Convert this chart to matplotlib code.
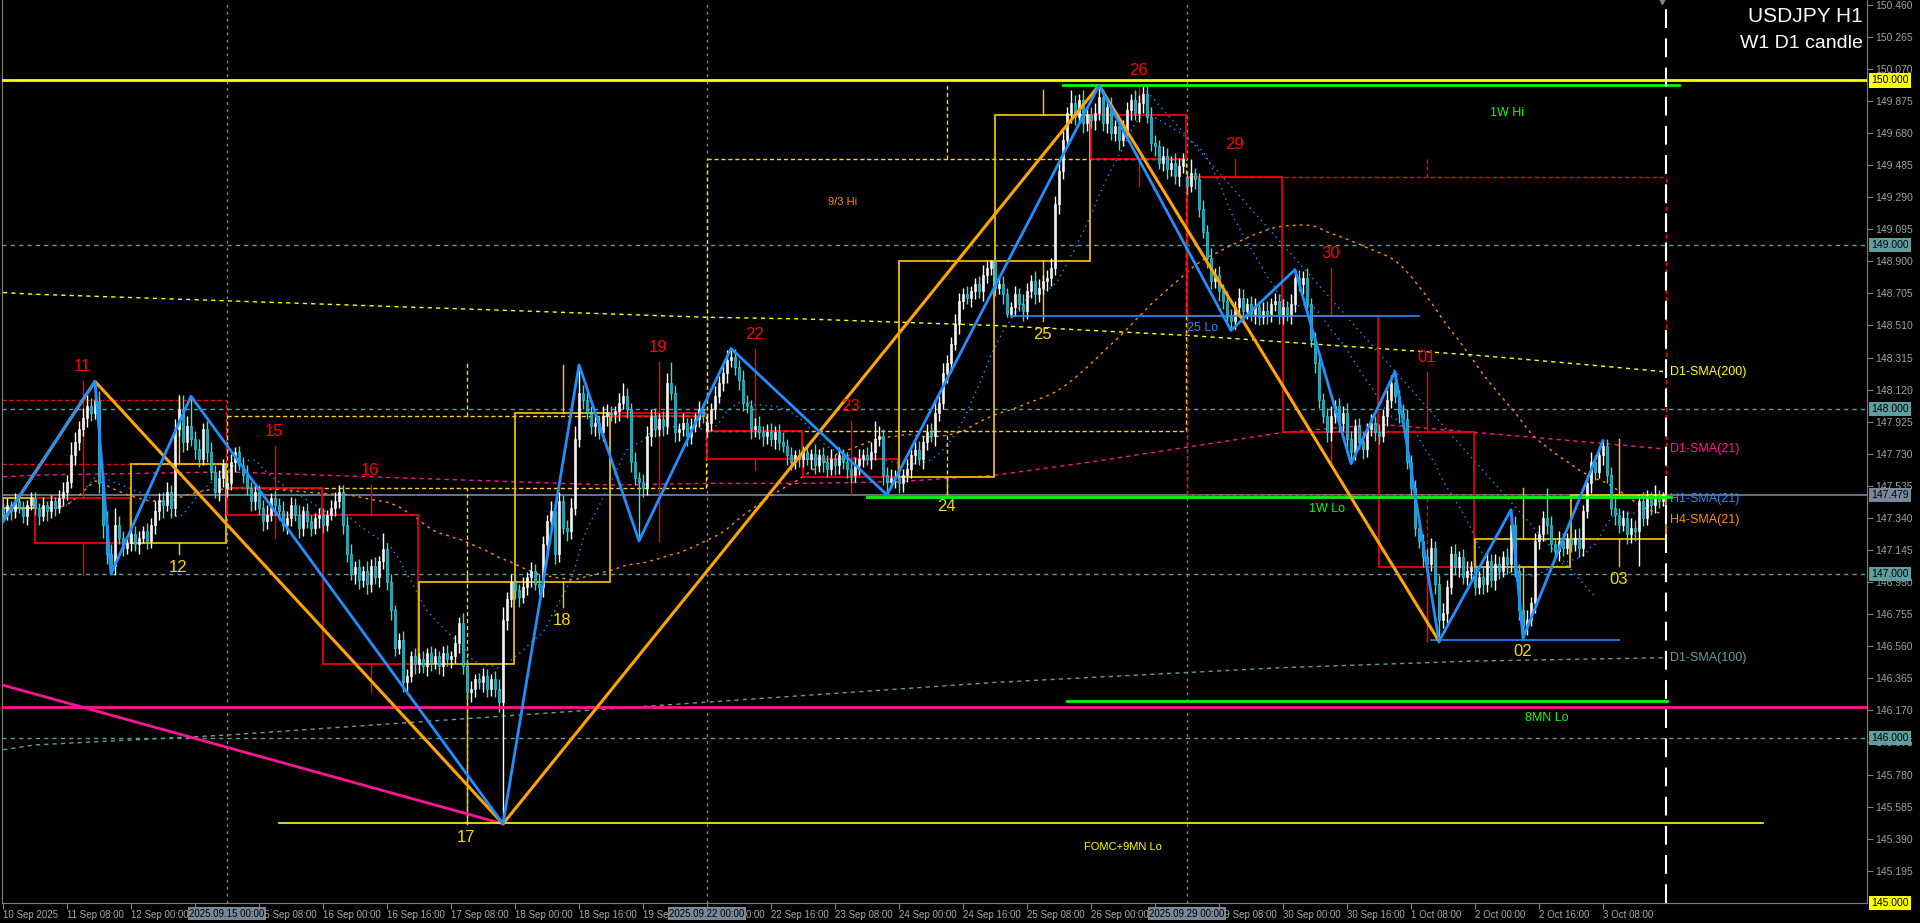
import numpy as np
import pandas as pd
import matplotlib
matplotlib.use("Agg")
import matplotlib.pyplot as plt
from matplotlib.patches import Rectangle
from matplotlib.transforms import blended_transform_factory

plt.rcParams['font.family'] = ['Liberation Sans', 'DejaVu Sans']

# USDJPY H1, first bar 10 Sep 2025 16:00, last bar 3 Oct 23:00
first_open = 147.40
close = [
    # 10 Sep
    147.36, 147.42, 147.38, 147.44, 147.40, 147.35, 147.42, 147.46,
    # 11 Sep
    147.40, 147.35, 147.42, 147.38, 147.44, 147.40, 147.46, 147.50,
    147.56, 147.72, 147.80, 147.88, 147.95, 148.02, 147.98, 148.05,
    147.55, 147.30, 147.12, 147.05, 147.30, 147.22, 147.16, 147.19,
    # 12 Sep
    147.24, 147.18, 147.22, 147.26, 147.20, 147.30, 147.38, 147.45,
    147.42, 147.50, 147.40, 147.88, 148.00, 147.80, 147.90, 147.82,
    147.76, 147.70, 147.88, 147.74, 147.62, 147.50, 147.58, 147.67,
    # 15 Sep
    147.55, 147.68, 147.74, 147.66, 147.60, 147.52, 147.44, 147.50,
    147.40, 147.32, 147.36, 147.46, 147.42, 147.38, 147.30, 147.34,
    147.42, 147.36, 147.28, 147.38, 147.32, 147.28, 147.34, 147.36,
    # 16 Sep
    147.30, 147.36, 147.40, 147.44, 147.50, 147.30, 147.12, 147.00,
    147.04, 146.96, 147.02, 146.94, 147.05, 146.98, 147.08, 147.15,
    146.95, 146.78, 146.55, 146.60, 146.34, 146.38, 146.50, 146.45,
    # 17 Sep
    146.48, 146.44, 146.52, 146.46, 146.50, 146.44, 146.52, 146.48,
    146.50, 146.58, 146.70, 146.44, 146.28, 146.30, 146.36, 146.34,
    146.38, 146.30, 146.36, 146.30, 146.22, 146.72, 146.85, 146.95,
    # 18 Sep
    146.90, 146.86, 146.92, 146.98, 147.02, 146.94, 146.92, 147.18,
    147.32, 147.38, 147.12, 147.44, 147.28, 147.26, 147.40, 147.82,
    148.10, 148.06, 147.98, 147.90, 147.92, 147.86, 147.96, 147.98,
    # 19 Sep
    147.97, 147.99, 148.04, 148.08, 148.00, 147.68, 147.58, 147.56,
    147.52, 147.84, 147.96, 147.88, 147.94, 147.90, 148.16, 148.10,
    147.86, 147.88, 147.92, 147.84, 147.90, 147.94, 148.00, 147.96,
    # 22 Sep
    147.92, 148.00, 148.08, 148.16, 148.22, 148.30, 148.32, 148.26,
    148.18, 148.04, 148.02, 147.88, 147.90, 147.86, 147.84, 147.86,
    147.82, 147.86, 147.80, 147.78, 147.72, 147.68, 147.72, 147.70,
    # 23 Sep
    147.74, 147.70, 147.73, 147.66, 147.72, 147.68, 147.64, 147.70,
    147.66, 147.72, 147.68, 147.64, 147.60, 147.66, 147.70, 147.72,
    147.70, 147.74, 147.82, 147.84, 147.60, 147.56, 147.58, 147.59,
    # 24 Sep
    147.55, 147.60, 147.64, 147.72, 147.75, 147.70, 147.80, 147.86,
    147.84, 147.98, 148.04, 148.22, 148.28, 148.40, 148.52, 148.66,
    148.70, 148.68, 148.72, 148.76, 148.72, 148.82, 148.86, 148.90,
    # 25 Sep
    148.74, 148.76, 148.70, 148.58, 148.62, 148.70, 148.64, 148.60,
    148.72, 148.78, 148.70, 148.74, 148.78, 148.80, 148.86, 149.25,
    149.45, 149.64, 149.80, 149.86, 149.78, 149.88, 149.74, 149.79,
    # 26 Sep
    149.76, 149.80, 149.90, 149.74, 149.84, 149.68, 149.72, 149.64,
    149.70, 149.82, 149.88, 149.80, 149.86, 149.92, 149.78, 149.62,
    149.60, 149.50, 149.54, 149.46, 149.50, 149.42, 149.48, 149.52,
    # 29 Sep
    149.36, 149.44, 149.40, 149.22, 149.08, 148.92, 148.78, 148.82,
    148.72, 148.66, 148.56, 148.54, 148.62, 148.68, 148.60, 148.64,
    148.58, 148.62, 148.56, 148.60, 148.58, 148.64, 148.66, 148.57,
    # 30 Sep
    148.62, 148.58, 148.64, 148.80, 148.76, 148.80, 148.64, 148.42,
    148.28, 148.06, 147.96, 147.86, 147.96, 148.02, 147.92, 147.98,
    147.82, 147.74, 147.90, 147.80, 147.76, 147.88, 147.92, 147.86,
    # 1 Oct
    147.84, 147.96, 148.06, 148.16, 148.08, 147.98, 147.94, 147.68,
    147.52, 147.28, 147.20, 147.10, 147.06, 147.16, 146.94, 146.72,
    146.76, 146.92, 147.12, 147.04, 147.10, 146.98, 147.02, 147.04,
    # 2 Oct
    146.92, 146.98, 146.94, 147.08, 146.96, 147.06, 147.02, 147.10,
    147.06, 147.30, 147.02, 146.78, 146.68, 146.72, 146.82, 147.20,
    147.24, 147.34, 147.30, 147.18, 147.14, 147.20, 147.16, 147.21,
    # 3 Oct
    147.18, 147.22, 147.16, 147.38, 147.55, 147.68, 147.62, 147.72,
    147.78, 147.60, 147.40, 147.36, 147.30, 147.34, 147.24, 147.28,
    147.26, 147.44, 147.34, 147.46, 147.42, 147.48, 147.44, 147.479,
]
# upper / lower wick beyond the body, in pips
wick_up = [
    3, 4, 2, 5, 3, 4, 3, 4,
    4, 3, 5, 2, 4, 3, 5, 6, 4, 8, 6, 5, 6, 7, 5, 12, 6, 5, 8, 6, 10, 5, 4, 3,
    3, 5, 4, 3, 5, 4, 6, 4, 5, 6, 4, 6, 8, 9, 6, 18, 5, 6, 4, 5, 6, 4, 5, 3,
    6, 5, 3, 4, 5, 6, 4, 5, 4, 5, 6, 3, 5, 4, 6, 4, 5, 4, 6, 3, 5, 4, 3, 4,
    4, 3, 5, 6, 4, 4, 5, 6, 4, 5, 3, 6, 4, 5, 3, 10, 4, 5, 3, 4, 5, 4, 3, 5,
    4, 5, 3, 4, 5, 3, 4, 5, 3, 5, 4, 6, 4, 5, 3, 4, 5, 4, 3, 5, 6, 8, 4, 5,
    5, 4, 6, 3, 5, 4, 6, 5, 4, 6, 5, 6, 4, 5, 6, 8, 17, 5, 6, 4, 5, 4, 6, 5,
    4, 3, 6, 8, 5, 4, 6, 4, 5, 6, 4, 5, 4, 5, 6, 13, 5, 4, 6, 3, 5, 4, 5, 4,
    5, 4, 6, 4, 5, 6, 5, 5, 4, 6, 5, 4, 5, 6, 4, 5, 6, 4, 5, 6, 4, 5, 3, 4,
    4, 5, 3, 6, 4, 5, 4, 6, 3, 5, 4, 6, 4, 5, 6, 4, 5, 6, 11, 6, 4, 5, 6, 4,
    5, 4, 6, 4, 5, 6, 4, 5, 6, 8, 4, 6, 5, 4, 6, 5, 4, 5, 3, 4, 5, 6, 4, 1,
    3, 4, 5, 4, 3, 5, 4, 6, 5, 4, 6, 5, 4, 5, 6, 5, 6, 5, 4, 8, 5, 4, 6, 5,
    5, 6, 7, 5, 5, 6, 4, 5, 6, 5, 4, 6, 5, 4, 5, 6, 5, 4, 6, 5, 4, 6, 5, 4,
    4, 8, 3, 4, 5, 4, 6, 4, 5, 4, 6, 5, 4, 6, 5, 4, 5, 6, 4, 5, 6, 4, 5, 4,
    5, 4, 6, 5, 5, 4, 6, 4, 5, 6, 4, 5, 6, 4, 5, 4, 6, 5, 4, 5, 6, 4, 5, 4,
    5, 4, 6, 5, 7, 4, 5, 6, 4, 5, 6, 4, 5, 6, 4, 5, 6, 4, 5, 6, 4, 5, 6, 4,
    5, 4, 6, 5, 4, 6, 5, 4, 6, 9, 5, 4, 5, 6, 4, 5, 6, 4, 18, 5, 4, 6, 5, 4,
    4, 5, 6, 4, 5, 6, 4, 5, 3, 4, 5, 6, 4, 5, 4, 6, 5, 4, 6, 5, 4, 6, 3, 2,
]
wick_dn = [
    4, 3, 5, 4, 3, 4, 5, 3,
    4, 5, 3, 6, 4, 5, 3, 4, 5, 4, 6, 5, 4, 6, 5, 4, 6, 8, 6, 5, 6, 4, 5, 4,
    5, 4, 6, 3, 5, 4, 6, 5, 8, 4, 6, 5, 4, 6, 5, 4, 6, 5, 4, 6, 5, 4, 6, 5,
    5, 4, 6, 3, 5, 4, 6, 5, 4, 6, 5, 4, 6, 5, 4, 6, 5, 4, 6, 5, 4, 5, 4, 6,
    5, 4, 3, 5, 4, 6, 5, 4, 6, 5, 4, 6, 5, 4, 6, 5, 5, 6, 5, 4, 6, 5, 4, 6,
    5, 4, 6, 5, 4, 5, 6, 4, 5, 4, 6, 5, 4, 6, 5, 4, 6, 5, 4, 5, 6, 74, 6, 5,
    5, 6, 4, 5, 6, 4, 5, 6, 5, 4, 6, 5, 4, 6, 5, 4, 5, 6, 4, 5, 6, 4, 5, 6,
    4, 5, 6, 4, 5, 6, 4, 36, 5, 4, 6, 5, 4, 6, 5, 4, 6, 5, 4, 6, 5, 4, 5, 4,
    4, 5, 6, 4, 5, 6, 4, 5, 6, 5, 4, 6, 5, 4, 6, 5, 4, 6, 5, 4, 6, 5, 4, 5,
    5, 4, 6, 5, 4, 6, 5, 4, 6, 5, 4, 6, 5, 4, 6, 5, 4, 6, 5, 4, 6, 8, 4, 6,
    6, 5, 4, 6, 5, 4, 6, 5, 4, 6, 5, 4, 6, 5, 4, 6, 5, 4, 6, 5, 4, 6, 5, 4,
    5, 4, 6, 2, 2, 5, 4, 6, 5, 4, 6, 5, 4, 6, 5, 4, 6, 5, 4, 6, 5, 4, 6, 5,
    5, 6, 4, 5, 6, 4, 5, 6, 4, 5, 6, 4, 5, 6, 4, 5, 6, 4, 5, 6, 4, 5, 6, 4,
    5, 4, 6, 5, 4, 6, 5, 4, 6, 5, 4, 6, 5, 4, 6, 5, 4, 6, 5, 4, 6, 5, 4, 5,
    5, 4, 6, 5, 4, 6, 5, 4, 6, 5, 4, 6, 5, 4, 6, 5, 6, 7, 5, 4, 6, 5, 4, 5,
    5, 4, 6, 5, 4, 6, 5, 4, 6, 5, 4, 6, 5, 4, 6, 13, 5, 6, 4, 5, 6, 4, 5, 6,
    5, 4, 6, 5, 4, 6, 5, 4, 6, 5, 4, 6, 7, 5, 4, 6, 5, 4, 6, 5, 4, 6, 5, 4,
    5, 4, 6, 5, 4, 6, 5, 4, 6, 5, 4, 6, 5, 4, 6, 5, 6, 21, 5, 4, 6, 5, 4, 3,
]
gap_open = {56: 147.52, 176: 147.87, 296: 149.41}  # monday opens

day_start = [0, 8, 32, 56, 80, 104, 128, 152, 176, 200, 224, 248, 272, 296, 320, 344, 368, 392]
day_label = ['10', '11', '12', '15', '16', '17', '18', '19', '22', '23', '24', '25', '26',
             '29', '30', '01', '02', '03']
week_start = [0, 56, 176, 296]
week_label = ['', '2025.09.15 00:00', '2025.09.22 00:00', '2025.09.29 00:00']
prev_week_open = 148.06

# daily SMAs, value at each day start + last bar
d1_sma21 = [147.59, 147.60, 147.61, 147.62, 147.60, 147.58, 147.56, 147.54, 147.55, 147.55,
            147.56, 147.60, 147.68, 147.77, 147.86, 147.91, 147.86, 147.81, 147.76]
d1_sma100 = [145.93, 145.96, 145.99, 146.02, 146.06, 146.10, 146.14, 146.18, 146.22, 146.26,
             146.30, 146.34, 146.37, 146.40, 146.43, 146.45, 146.47, 146.48, 146.49]
d1_sma200 = [148.71, 148.70, 148.68, 148.66, 148.64, 148.62, 148.60, 148.58, 148.56, 148.55,
             148.53, 148.51, 148.48, 148.45, 148.41, 148.37, 148.33, 148.28, 148.23]

# zigzag pivots (bar index), alternating low / high starting with a low
orange_piv = [0, 23, 125, 274, 359]
blue_piv = [0, 23, 27, 47, 125, 144, 159, 182, 221, 274, 307, 323, 337, 348, 359, 377, 380, 400]

# horizontal levels
lvl_name = ['1W Hi', '1W Lo', '8MN Lo', 'FOMC+9MN Lo']
lvl_price = [149.97, 147.47, 146.225, 145.487]
lvl_from = [265, 216, 266, 69]
lvl_to = [419, 417, 416, 440]
pink_level = 146.19
pink_trend_bar = [-1, 125]
pink_trend_px = [146.33, 145.48]
lo25_price, lo25_from, lo25_to = 148.57, 252, 354
lo02_price, lo02_from, lo02_to = 146.595, 357, 404
trend_bar = [285, 398]
trend_px = [149.96, 146.86]
round_levels = [146.0, 147.0, 148.0, 149.0]

tick_bars = list(range(0, 401, 16))
tick_text = ['10 Sep 2025', '11 Sep 08:00', '12 Sep 00:00', '12 Sep 16:00', '15 Sep 08:00',
             '16 Sep 00:00', '16 Sep 16:00', '17 Sep 08:00', '18 Sep 00:00', '18 Sep 16:00',
             '19 Sep 08:00', '22 Sep 00:00', '22 Sep 16:00', '23 Sep 08:00', '24 Sep 00:00',
             '24 Sep 16:00', '25 Sep 08:00', '26 Sep 00:00', '26 Sep 16:00', '29 Sep 08:00',
             '30 Sep 00:00', '30 Sep 16:00', '1 Oct 08:00', '2 Oct 00:00', '2 Oct 16:00',
             '3 Oct 08:00']
price_ticks = [145.195, 145.390, 145.585, 145.780, 145.975, 146.170, 146.365, 146.560,
               146.755, 146.950, 147.145, 147.340, 147.535, 147.730, 147.925, 148.120,
               148.315, 148.510, 148.705, 148.900, 149.095, 149.290, 149.485, 149.680,
               149.875, 150.070, 150.265, 150.460]

# ---------------------------------------------------------------
c = np.array(close)
n = len(c)
o = np.empty(n)
o[0] = first_open
o[1:] = c[:-1]
for b, v in gap_open.items():
    o[b] = v
hi = np.maximum(o, c) + np.array(wick_up) / 100
lo = np.minimum(o, c) - np.array(wick_dn) / 100
x = np.arange(n)
bull = c >= o

W, H = 1920, 923
fig = plt.figure(figsize=(W / 100, H / 100), dpi=100, facecolor='black')
ax = fig.add_axes([2 / W, (H - 902.8) / H, 1865 / W, 902.8 / H])
ax.set_facecolor('black')
ax.set_xlim(-0.25, -0.25 + 1865 / 4)
ax.set_ylim(145.0, 150.489)
last = n - 1
shift_x = last + 0.75

# grid-ish lines
for lv in round_levels:
    ax.axhline(lv, color='#5f9ea0', lw=1, dashes=(3, 3), zorder=1)
for ws in week_start[1:]:
    ax.axvline(ws, color='#778899', lw=1, ls=(0, (2, 3)), zorder=1)
ax.axhline(c[-1], color='#778899', lw=1.2, zorder=1.5)
ax.axvline(shift_x, color='white', lw=1.5, dashes=(9, 5), zorder=6)
ax.plot(shift_x - 1, 150.489, marker='v', color='#778899', ms=6, clip_on=False, zorder=7)

# moving averages
h1_sma = pd.Series(c).rolling(21, min_periods=1).mean()
h4_sma = pd.Series(c).rolling(84, min_periods=1).mean()
ax.plot(x, h1_sma, color='#1e90ff', lw=1, ls=(0, (1, 3)), zorder=2)
ax.plot(x, h4_sma, color='#ff8c00', lw=1, ls=(0, (2, 3)), zorder=2)
dx = day_start + [last]
ax.plot(dx, d1_sma21, color='#ff1493', lw=1, ls=(0, (3, 3)), zorder=2)
ax.plot(dx, d1_sma100, color='#5f9ea0', lw=1, ls=(0, (3, 3)), zorder=2)
ax.plot(dx, d1_sma200, color='#ffff00', lw=1, ls=(0, (3, 3)), zorder=2)
sma_tags = [('D1-SMA(200)', d1_sma200[-1], '#ffff00'), ('D1-SMA(21)', d1_sma21[-1], '#ff1493'),
            ('H1-SMA(21)', h1_sma.iloc[-1], '#1e90ff'), ('H4-SMA(21)', h4_sma.iloc[-1] - 0.04, '#ff8c00'),
            ('D1-SMA(100)', d1_sma100[-1], '#5f9ea0')]
for txt, yv, col in sma_tags:
    ax.text(shift_x + 1, yv, txt, color=col, fontsize=9, ha='left', va='center', zorder=8)

# weekly candles (dashed)
week_end = week_start[1:] + [n]
for k, s in enumerate(week_start):
    e = week_end[k] - 1
    wo = prev_week_open if k == 0 else o[s]
    wc = c[e]
    col = '#ffd700' if wc >= wo else '#ff0000'
    top, bot = max(wo, wc), min(wo, wc)
    left, right = (-0.25 if k == 0 else s), e + 0.75
    kw = dict(color=col, lw=1, ls=(0, (3, 2)), zorder=2)
    ax.plot([left, right], [top, top], **kw)
    ax.plot([left, right], [bot, bot], **kw)
    ax.plot([right, right], [bot, top], **kw)
    if k > 0:
        ax.plot([left, left], [bot, top], **kw)
        mid = (left + right) / 2
        ax.plot([mid, mid], [top, hi[s:e + 1].max()], **kw)
        ax.plot([mid, mid], [lo[s:e + 1].min(), bot], **kw)

# daily candles (boxes)
day_end = day_start[1:] + [n]
for k, s in enumerate(day_start):
    e = day_end[k] - 1
    do, dc = o[s], c[e]
    col = '#ffc800' if dc >= do else '#ff0000'
    left, right = s, e + 0.75
    top, bot = max(do, dc), min(do, dc)
    ax.add_patch(Rectangle((left, bot), right - left, top - bot, fill=False,
                           edgecolor=col, lw=1.2, zorder=2.5))
    if k == 0:
        continue
    mid = (left + right) / 2
    dh, dl = hi[s:e + 1].max(), lo[s:e + 1].min()
    ax.plot([mid, mid], [top, dh], color=col, lw=1, zorder=2.5)
    ax.plot([mid, mid], [dl, bot], color=col, lw=1, zorder=2.5)
    if dc >= do:
        ax.annotate(day_label[k], (mid, dl), xytext=(0, -6), textcoords='offset pixels',
                    color='#ffd700', fontsize=12, ha='center', va='top', zorder=8)
    else:
        ax.annotate(day_label[k], (mid, dh), xytext=(0, 7), textcoords='offset pixels',
                    color='#ff0000', fontsize=12, ha='center', va='bottom', zorder=8)

# candles
body_lo = np.minimum(o, c)
body_h = np.maximum(np.abs(c - o), 0.006)
ax.vlines(x[bull], lo[bull], hi[bull], color='#ffffff', lw=1, zorder=3)
ax.vlines(x[~bull], lo[~bull], hi[~bull], color='#40e0d0', lw=1, zorder=3)
ax.bar(x[bull], body_h[bull], bottom=body_lo[bull], width=0.7, color='#fdeaea',
       edgecolor='#ffffff', lw=0.4, zorder=3.1)
ax.bar(x[~bull], body_h[~bull], bottom=body_lo[~bull], width=0.7, color='#1e90ff',
       edgecolor='#40e0d0', lw=0.4, zorder=3.1)

# levels
ax.axhline(150.0, color='#ffff00', lw=2, zorder=3.5)
ax.axhline(pink_level, color='#ff1493', lw=2, zorder=3.5)
ax.plot(pink_trend_bar, pink_trend_px, color='#ff1493', lw=2, zorder=3.5, clip_on=True)
lvl_col = ['#00ff00', '#00ff00', '#00ff00', '#ffff00']
lvl_lw = [2, 2, 2, 1.2]
lvl_tag = [(376, -28), (331, -12), (386, -17), (280, -24)]
for name, p, a, b, col, lw, (tx, dy) in zip(lvl_name, lvl_price, lvl_from, lvl_to, lvl_col, lvl_lw, lvl_tag):
    ax.plot([a, b], [p, p], color=col, lw=lw, zorder=3.5, clip_on=False)
    ax.annotate(name, (tx, p), xytext=(0, dy), textcoords='offset pixels', color=col,
                fontsize=9 if col == '#00ff00' else 8, ha='center', va='center', zorder=8)
ax.plot([lo25_from, lo25_to], [lo25_price] * 2, color='#1e90ff', lw=1.2, zorder=3.5)
ax.annotate('25 Lo', (300, lo25_price), xytext=(0, -12), textcoords='offset pixels',
            color='#1e90ff', fontsize=9, ha='center', va='center', zorder=8)
ax.plot([lo02_from, lo02_to], [lo02_price] * 2, color='#1e90ff', lw=1.2, zorder=3.5)
ax.plot(trend_bar, trend_px, color='#1e90ff', lw=1, ls=(0, (1, 3)), zorder=2)
ax.text(210, 149.26, '9/3 Hi', color='#ff8c00', fontsize=8, ha='center', va='center', zorder=8)

# zigzags
def piv_prices(bars):
    return [lo[b] if i % 2 == 0 else hi[b] for i, b in enumerate(bars)]

ax.plot(orange_piv, piv_prices(orange_piv), color='#ffa500', lw=2.2, zorder=4)
ax.plot(blue_piv, piv_prices(blue_piv), color='#1e90ff', lw=2, zorder=4.1)

# axes styling
ax.spines['top'].set_visible(False)
for side in ['left', 'right', 'bottom']:
    ax.spines[side].set_color('#808080')
ax.yaxis.tick_right()
ax.set_yticks(price_ticks)
ax.set_yticklabels([f'{t:.3f}' for t in price_ticks])
ax.tick_params(axis='y', colors='#808080', labelcolor='#a0a0a0', length=4, pad=2, labelsize=7.5)
ax.set_xticks(tick_bars)
ax.set_xticklabels(tick_text)
ax.tick_params(axis='x', colors='#808080', labelcolor='#a8a8a8', length=4, pad=1.5, labelsize=7)
for lbl in ax.get_xticklabels():
    lbl.set_horizontalalignment('left')

ytr = blended_transform_factory(ax.transAxes, ax.transData)
price_boxes = [(150.0, '#ffff00'), (149.0, '#5f9ea0'), (148.0, '#5f9ea0'), (147.0, '#5f9ea0'),
               (146.0, '#5f9ea0'), (c[-1], '#778899'), (145.0, '#ffff00')]
for p, fc in price_boxes:
    ax.text(1 + 4 / 1865, p, f'{p:.3f}', transform=ytr, fontsize=7.5, color='black',
            ha='left', va='center', clip_on=False, zorder=10,
            bbox=dict(boxstyle='square,pad=0.2', fc=fc, ec='none'))
xtr = blended_transform_factory(ax.transData, ax.transAxes)
for ws, txt in zip(week_start, week_label):
    if txt:
        ax.text(ws, -6 / 902.8, txt, transform=xtr, fontsize=7, color='black', ha='center',
                va='top', clip_on=False, zorder=10,
                bbox=dict(boxstyle='square,pad=0.15', fc='#778899', ec='none'))

fig.text(1863 / W, 1 - 17 / H, 'USDJPY H1', color='white', fontsize=15, ha='right', va='center')
fig.text(1863 / W, 1 - 43 / H, 'W1 D1 candle', color='white', fontsize=14, ha='right', va='center')

fig.savefig('out.png', dpi=100, facecolor='black')
